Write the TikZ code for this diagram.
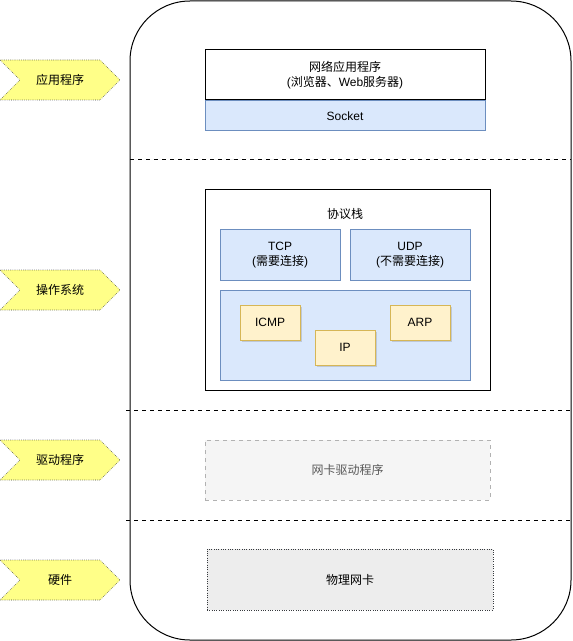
\documentclass[tikz,border=0pt]{standalone}
\usepackage{fontspec}
\setmainfont{Liberation Sans}
\newfontfamily\cjk{Noto Sans CJK SC}
\usetikzlibrary{positioning, shapes.symbols, shadows}
\definecolor{bluefill}{HTML}{DAE8FC}
\definecolor{bluedraw}{HTML}{6C8EBF}
\definecolor{yelfill}{HTML}{FFF2CC}
\definecolor{yeldraw}{HTML}{D6B656}
\definecolor{tagfill}{HTML}{FFFF88}
\definecolor{tagdraw}{HTML}{36393D}
\tikzset{box/.style={rectangle,draw,align=center,inner sep=0pt,line width=0.75pt,font=\fontsize{9}{11}\selectfont},blue/.style={box,fill=bluefill,draw=bluedraw},proto/.style={box,fill=yelfill,draw=yeldraw,minimum width=45pt,minimum height=26.25pt,drop shadow={opacity=0.3,shadow xshift=1.5pt,shadow yshift=-1.5pt}},tag/.style={signal,signal to=east,signal from=west,signal pointer angle=90,draw=tagdraw,densely dotted,fill=tagfill,minimum width=90pt,minimum height=30pt,inner sep=0pt,font=\fontsize{9}{11}\selectfont\cjk},sep/.style={dashed,line width=0.75pt}}

\begin{document}
\begin{tikzpicture}[x=0.75pt,y=-0.75pt]
\useasboundingbox (0,0) rectangle (572,641);
\draw[line width=0.75pt,rounded corners=45pt] (130,1) rectangle (571,640);
\draw[sep] (130,160) -- (571,160);
\draw[sep] (126,410) -- (571,410);
\draw[sep] (126,520) -- (571,520);
% application layer
\node[box,fill=white,minimum width=210pt,minimum height=37.5pt] (app) at (345,75) {{\cjk 网络应用程序}\\({\cjk 浏览器、}Web{\cjk 服务器})};
\node[blue,minimum width=210pt,minimum height=22.5pt,below=0pt of app] (socket) {Socket};
% protocol stack
\node[box,minimum width=213.75pt,minimum height=150pt] (stack) at (347.5,290) {};
\node[font=\fontsize{9}{11}\selectfont\cjk] (stacktitle) at (345,214) {协议栈};
\node[blue,minimum width=90pt,minimum height=37.5pt] (tcp) at (280,255) {TCP\\({\cjk 需要连接})};
\node[blue,minimum width=90pt,minimum height=37.5pt] (udp) at (410,255) {UDP\\({\cjk 不需要连接})};
\node[blue,minimum width=187.5pt,minimum height=67.5pt] (iplayer) at (345,335) {};
\node[proto] (icmp) at (270,322.5) {ICMP};
\node[proto] (ip) at (345,347.5) {IP};
\node[proto] (arp) at (420,322.5) {ARP};
% driver and hardware
\node[box,fill=black!4,draw=black!30,dashed,text=black!65,minimum width=213.75pt,minimum height=45pt,font=\fontsize{9}{11}\selectfont\cjk] (driver) at (347.5,470) {网卡驱动程序};
\node[box,fill=black!7,draw=tagdraw,densely dotted,minimum width=214.5pt,minimum height=45.75pt,font=\fontsize{9}{11}\selectfont\cjk] (nic) at (350,579.5) {物理网卡};
% layer tags
\node[tag] (tapp) at (60,80) {应用程序};
\node[tag] (tos) at (60,290) {操作系统};
\node[tag] (tdrv) at (60,460) {驱动程序};
\node[tag] (thw) at (60,580) {硬件};
\end{tikzpicture}
\end{document}
